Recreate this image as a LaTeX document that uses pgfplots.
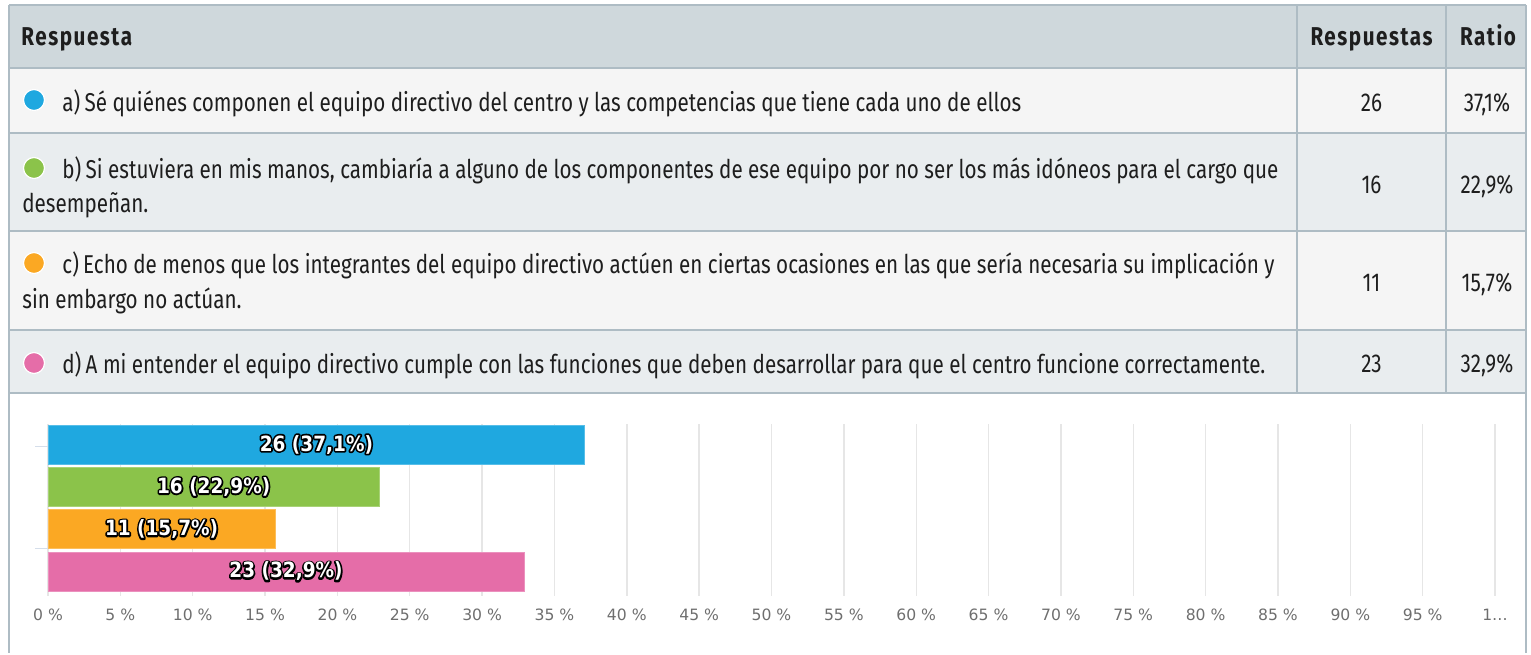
\documentclass[border=0pt]{standalone}
\usepackage{fontspec}
\usepackage{pgfplots}
\pgfplotsset{compat=1.18}
\setmainfont{Fira Sans}[FakeStretch=0.8]
\newfontfamily\headfont{Fira Sans}[FakeStretch=0.8,LetterSpace=6]
\newfontfamily\tickfont{DejaVu Sans}
\newfontfamily\barfont{DejaVu Sans}[FakeStretch=0.88]

\definecolor{cBlue}{HTML}{1FA8E0}
\definecolor{cGreen}{HTML}{8BC34A}
\definecolor{cOrange}{HTML}{FBA823}
\definecolor{cPink}{HTML}{E56DA8}
\definecolor{headbg}{HTML}{CFD8DC}
\definecolor{rowlight}{HTML}{F5F5F5}
\definecolor{rowdark}{HTML}{E9EDEF}
\definecolor{rule}{HTML}{AEBCC4}
\definecolor{txt}{HTML}{1E1E1E}
\definecolor{gridgray}{HTML}{E6E6E6}
\definecolor{tickgray}{HTML}{6E6E6E}
\definecolor{ytk}{HTML}{D5DEEA}

% white label with a black outline: a stroked black copy under the white one
\newcommand\barlab[1]{\rlap{\color{black}\special{pdf:literal direct 2 Tr 1.7 w 1 j}#1\special{pdf:literal direct 0 Tr}}#1}

\begin{document}
\begin{tikzpicture}
% table, drawn in pixel units of the reference
\begin{scope}[x=0.5pt,y=-0.5pt,
  txt/.style={font=\fontsize{12.9}{15}\selectfont, text=txt, inner sep=0pt, anchor=base west},
  num/.style={font=\fontsize{12.9}{15}\selectfont, text=txt, inner sep=0pt, anchor=base},
  hd/.style={font=\headfont\bfseries\fontsize{12.9}{15}\selectfont}]
  \path (0,0) rectangle (1531,653);
  \fill[headbg] (9,5) rectangle (1526,68);
  \fill[rowlight] (9,68) rectangle (1526,133);
  \fill[rowdark] (9,133) rectangle (1526,231);
  \fill[rowlight] (9,231) rectangle (1526,330);
  \fill[rowdark] (9,330) rectangle (1526,393);
  \foreach \yy in {5,68,133,231,330,393}
    \draw[rule, line width=1pt] (9,\yy) -- (1526,\yy);
  \draw[rule, line width=1pt] (9,5) -- (9,653);
  \draw[rule, line width=1pt] (1526,5) -- (1526,653);
  \draw[rule, line width=1pt] (1297,5) -- (1297,393);
  \draw[rule, line width=1pt] (1446,5) -- (1446,393);

  \node[txt, hd] at (21,45) {Respuesta};
  \node[num, hd] at (1371.5,45) {Respuestas};
  \node[num, hd] at (1488,45) {Ratio};

  \fill[cBlue, draw=white, line width=0.6pt] (34,100) circle (10.5);
  \fill[cGreen, draw=white, line width=0.6pt] (34,168) circle (10.5);
  \fill[cOrange, draw=white, line width=0.6pt] (34,263) circle (10.5);
  \fill[cPink, draw=white, line width=0.6pt] (34,363) circle (10.5);

  \node[txt] at (62,111) {a)\,Sé quiénes componen el equipo directivo del centro y las competencias que tiene cada uno de ellos};
  \node[txt] at (62,178) {b)\,Si estuviera en mis manos, cambiaría a alguno de los componentes de ese equipo por no ser los más idóneos para el cargo que};
  \node[txt] at (22,212) {desempeñan.};
  \node[txt] at (62,273) {c)\,Echo de menos que los integrantes del equipo directivo actúen en ciertas ocasiones en las que sería necesaria su implicación y};
  \node[txt] at (22,308) {sin embargo no actúan.};
  \node[txt] at (62,373) {d)\,A mi entender el equipo directivo cumple con las funciones que deben desarrollar para que el centro funcione correctamente.};

  \node[num] at (1371.5,111) {26};
  \node[num] at (1371.5,193) {16};
  \node[num] at (1371.5,291) {11};
  \node[num] at (1371.5,372) {23};
  \node[num] at (1487,111) {37,1\%};
  \node[num] at (1487,193) {22,9\%};
  \node[num] at (1487,291) {15,7\%};
  \node[num] at (1487,372) {32,9\%};
\end{scope}

\begin{axis}[
  at={(24pt,-212pt)}, anchor=north west,
  scale only axis, width=723.5pt, height=86pt,
  xbar, bar width=19.5pt,
  every axis plot/.append style={bar shift=0pt, bar width=19.5pt},
  xmin=0, xmax=100, ymin=0.515, ymax=4.58, y dir=reverse,
  axis line style={draw=none},
  xtick={0,5,...,100},
  xticklabels={0~\%,5~\%,10~\%,15~\%,20~\%,25~\%,30~\%,35~\%,40~\%,45~\%,50~\%,55~\%,60~\%,65~\%,70~\%,75~\%,80~\%,85~\%,90~\%,95~\%,1…},
  xmajorgrids, major grid style={color=gridgray, line width=0.7pt},
  x tick style={draw=none},
  ytick=\empty,
  xticklabel style={font=\tickfont\fontsize{7.8}{9}\selectfont, text=tickgray, yshift=-3pt},
  clip=false,
]
\addplot[fill=cBlue, draw=cBlue!75!white] coordinates {(37.1,1)};
\addplot[fill=cGreen, draw=cGreen!75!white] coordinates {(22.9,2)};
\addplot[fill=cOrange, draw=cOrange!75!white] coordinates {(15.7,3)};
\addplot[fill=cPink, draw=cPink!75!white] coordinates {(32.9,4)};

\draw[ytk, line width=0.6pt] (axis cs:0,1.04) -- ([xshift=-6.5pt]axis cs:0,1.04);
\draw[ytk, line width=0.6pt] (axis cs:0,3.45) -- ([xshift=-6.5pt]axis cs:0,3.45);

\begin{scope}[every node/.style={font=\barfont\bfseries\fontsize{10.5}{12}\selectfont, text=white, inner sep=0pt}]
\node at (axis cs:18.55,1) {\barlab{26 (37,1\%)}};
\node at (axis cs:11.45,2) {\barlab{16 (22,9\%)}};
\node at (axis cs:7.85,3) {\barlab{11 (15,7\%)}};
\node at (axis cs:16.45,4) {\barlab{23 (32,9\%)}};
\end{scope}
\end{axis}
\end{tikzpicture}
\end{document}
